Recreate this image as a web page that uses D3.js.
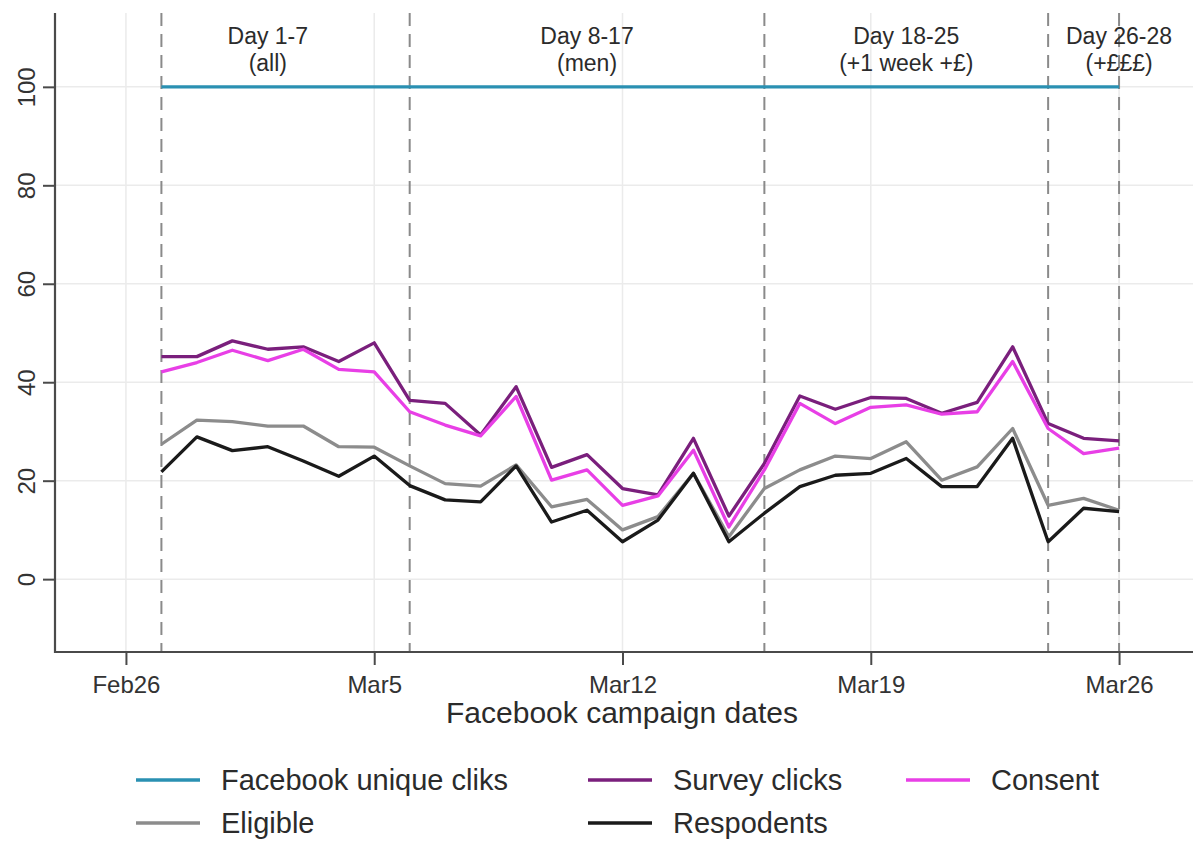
<!DOCTYPE html>
<html>
<head>
<meta charset="utf-8">
<script src="https://cdn.jsdelivr.net/npm/d3@7"></script>
<style>
  html, body { margin: 0; padding: 0; background: #fff; }
  svg { display: block; font-family: "Liberation Sans", Arial, sans-serif; }
</style>
</head>
<body>
<svg id="chart" width="1197" height="841"></svg>
<script>
// ---------------- DATA ----------------
const dates = [
  "2018-02-27","2018-02-28","2018-03-01","2018-03-02","2018-03-03","2018-03-04","2018-03-05",
  "2018-03-06","2018-03-07","2018-03-08","2018-03-09","2018-03-10","2018-03-11","2018-03-12",
  "2018-03-13","2018-03-14","2018-03-15","2018-03-16","2018-03-17","2018-03-18","2018-03-19",
  "2018-03-20","2018-03-21","2018-03-22","2018-03-23","2018-03-24","2018-03-25","2018-03-26"
];
const facebookUnique = [100,100,100,100,100,100,100,100,100,100,100,100,100,100,
                        100,100,100,100,100,100,100,100,100,100,100,100,100,100];
const surveyClicks = [45.2,45.2,48.4,46.7,47.2,44.2,48.0,36.3,35.7,29.3,39.1,22.7,25.3,18.4,
                      17.1,28.6,12.8,23.5,37.2,34.5,36.9,36.7,33.7,35.9,47.2,31.6,28.6,28.1];
const consent = [42.1,44.0,46.5,44.4,46.7,42.6,42.1,34.0,31.3,29.1,37.1,20.1,22.2,15.0,
                 16.9,26.2,10.6,22.2,35.7,31.6,34.9,35.4,33.5,34.0,44.2,30.6,25.5,26.6];
const eligible = [27.4,32.3,32.0,31.1,31.1,26.9,26.8,23.0,19.4,18.9,23.2,14.7,16.2,10.0,
                  12.7,21.5,8.6,18.4,22.2,25.0,24.5,27.9,20.1,22.8,30.6,15.0,16.4,14.0];
const respondents = [21.8,28.9,26.1,26.9,24.0,20.9,25.0,19.0,16.1,15.7,23.0,11.6,14.0,7.6,
                     12.0,21.5,7.6,13.4,18.8,21.1,21.5,24.5,18.8,18.8,28.6,7.6,14.4,13.7];

const seriesNames = ["Facebook unique cliks","Survey clicks","Consent","Eligible","Respodents"];
const seriesColors = ["#2a90b2","#7a1f7c","#e83fe6","#8c8c8c","#1a1a1a"];

const xTickDates = ["2018-02-26","2018-03-05","2018-03-12","2018-03-19","2018-03-26"];
const yTicks = [0,20,40,60,80,100];
const phaseLineDates = ["2018-02-27","2018-03-06","2018-03-16","2018-03-24","2018-03-26"];
const phaseLabelDates = ["2018-03-02","2018-03-11","2018-03-20","2018-03-26"];
const phaseLabels1 = ["Day 1-7","Day 8-17","Day 18-25","Day 26-28"];
const phaseLabels2 = ["(all)","(men)","(+1 week +£)","(+£££)"];
const xDomainDates = ["2018-02-24","2018-03-28"];
const yDomain = [-14.8, 115];
const xTitle = "Facebook campaign dates";

// ---------------- SETUP ----------------
const parse = d3.utcParse("%Y-%m-%d");
const svg = d3.select("#chart");
const L = 55, R = 1190, T = 13, B = 652;

const x = d3.scaleUtc().domain(xDomainDates.map(parse)).range([L, R]);
const y = d3.scaleLinear().domain(yDomain).range([B, T]);

// gridlines
const grid = svg.append("g");
grid.selectAll("line.v").data(xTickDates.map(parse)).join("line")
  .attr("x1", d => x(d)).attr("x2", d => x(d)).attr("y1", T).attr("y2", B)
  .attr("stroke", "#ebebeb").attr("stroke-width", 1.5);
grid.selectAll("line.h").data(yTicks).join("line")
  .attr("x1", L).attr("x2", R + 3).attr("y1", d => y(d)).attr("y2", d => y(d))
  .attr("stroke", "#ebebeb").attr("stroke-width", 1.5);

// phase dashed lines
svg.append("g").selectAll("line").data(phaseLineDates.map(parse)).join("line")
  .attr("x1", d => x(d)).attr("x2", d => x(d)).attr("y1", T).attr("y2", B)
  .attr("stroke", "#8a8a8a").attr("stroke-width", 2)
  .attr("stroke-dasharray", "13,8");

// phase labels
const lab = svg.append("g").attr("fill", "#2b2b2b").attr("font-size", 23).attr("text-anchor", "middle");
lab.selectAll("text.l1").data(phaseLabelDates).join("text")
  .attr("x", d => x(parse(d))).attr("y", 44).text((d, i) => phaseLabels1[i]);
lab.selectAll("text.l2").data(phaseLabelDates).join("text")
  .attr("x", d => x(parse(d))).attr("y", 71).text((d, i) => phaseLabels2[i]);

// axes
const xAxis = d3.axisBottom(x).tickValues(xTickDates.map(parse))
  .tickFormat(d3.utcFormat("%b%-d")).tickSize(13).tickPadding(11).tickSizeOuter(0);
const gx = svg.append("g").attr("transform", `translate(0,${B})`).call(xAxis);
gx.select(".domain").attr("stroke", "#4a4a4a").attr("stroke-width", 2.2)
  .attr("d", `M${L - 1},0H${R + 3}`);
gx.selectAll(".tick line").attr("stroke", "#4a4a4a").attr("stroke-width", 2);
gx.selectAll(".tick text").attr("font-size", 24).attr("fill", "#333")
  .attr("font-family", "Liberation Sans, Arial, sans-serif");

const yAxis = d3.axisLeft(y).tickValues(yTicks).tickSize(12).tickFormat(d3.format("d")).tickSizeOuter(0);
const gy = svg.append("g").attr("transform", `translate(${L},0)`).call(yAxis);
gy.select(".domain").attr("stroke", "#4a4a4a").attr("stroke-width", 2.2)
  .attr("d", `M0,${T}V${B + 1}`);
gy.selectAll(".tick line").attr("stroke", "#4a4a4a").attr("stroke-width", 2);
gy.selectAll(".tick text")
  .attr("font-size", 24).attr("fill", "#333")
  .attr("font-family", "Liberation Sans, Arial, sans-serif")
  .attr("x", null).attr("dy", null)
  .attr("text-anchor", "middle")
  .attr("transform", "translate(-20,0) rotate(-90)");

svg.append("text").attr("x", 622).attr("y", 723).attr("text-anchor", "middle")
  .attr("font-size", 30).attr("fill", "#2b2b2b").text(xTitle);

// lines
const seriesValues = [facebookUnique, surveyClicks, consent, eligible, respondents];
const line = d3.line().x(d => x(d.date)).y(d => y(d.value));
svg.append("g").selectAll("path").data(seriesValues).join("path")
  .attr("d", vals => line(vals.map((v, i) => ({ date: parse(dates[i]), value: v }))))
  .attr("fill", "none")
  .attr("stroke", (d, i) => seriesColors[i])
  .attr("stroke-width", 3.3)
  .attr("stroke-linejoin", "round");

// legend
const legendPos = [[136, 780], [588, 780], [906, 780], [136, 823], [588, 823]];
const lg = svg.append("g");
seriesNames.forEach((name, i) => {
  const [lx, ly] = legendPos[i];
  lg.append("line").attr("x1", lx).attr("x2", lx + 64).attr("y1", ly).attr("y2", ly)
    .attr("stroke", seriesColors[i]).attr("stroke-width", 3.5);
  lg.append("text").attr("x", lx + 85).attr("y", ly + 10)
    .attr("font-size", 29).attr("fill", "#2b2b2b").text(name);
});
</script>
</body>
</html>
